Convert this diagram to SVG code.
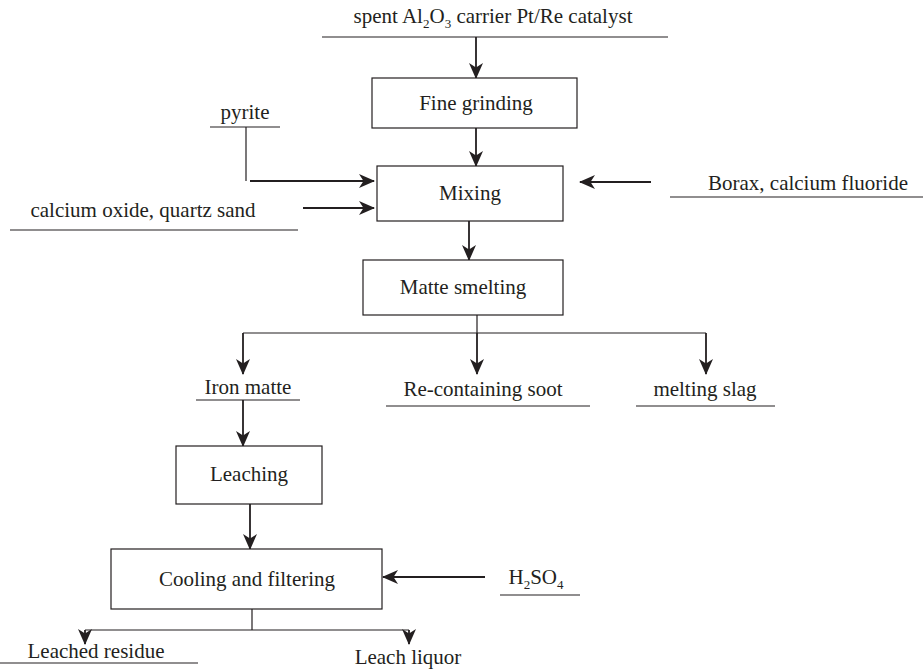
<svg xmlns="http://www.w3.org/2000/svg" width="923" height="670" viewBox="0 0 923 670">
<style>
text{font-family:"Liberation Serif","Times New Roman",serif;font-size:21px;fill:#231f20;text-anchor:middle}
.box{fill:#fff;stroke:#231f20;stroke-width:1.2}
.ln{fill:none;stroke:#231f20;stroke-width:1.2}
.ar{fill:none;stroke:#231f20;stroke-width:1.8;marker-end:url(#ah)}
.sub{font-size:13px}
</style>
<defs>
<marker id="ah" viewBox="0 0 16 14" refX="15" refY="7" markerWidth="16" markerHeight="14" markerUnits="userSpaceOnUse" orient="auto">
<path d="M0,0 L16,7 L0,14 L4.5,7 Z" fill="#231f20"/>
</marker>
</defs>
<rect width="923" height="670" fill="#fff"/>
<g id="connectors">
<path class="ar" d="M476,37 V78"/>
<path class="ar" d="M476,128 V166"/>
<path class="ln" d="M246,127 V181"/>
<path class="ar" d="M250,181 H374"/>
<path class="ar" d="M303,208 H374"/>
<path class="ar" d="M469,221 V260"/>
<path class="ar" d="M651,182 H580"/>
<path class="ln" d="M477,315 V333 M243,333 H706"/>
<path class="ar" d="M243,333 V374"/>
<path class="ar" d="M477,333 V374"/>
<path class="ar" d="M706,333 V374"/>
<path class="ar" d="M243,400 V446"/>
<path class="ar" d="M250,504 V549"/>
<path class="ar" d="M485,577 H383"/>
<path class="ln" d="M252,609 V630 M85,630 H409"/>
<path class="ar" d="M85,630 V644"/>
<path class="ar" d="M409,630 V644"/>
</g>
<g id="input-catalyst">
<text x="493" y="23">spent Al<tspan class="sub" dy="5">2</tspan><tspan dy="-5">O</tspan><tspan class="sub" dy="5">3</tspan><tspan dy="-5"> carrier Pt/Re catalyst</tspan></text>
<path class="ln" d="M322,37 H668"/>
</g>
<g id="fine-grinding">
<rect class="box" x="372" y="78" width="205" height="50"/>
<text x="476" y="110">Fine grinding</text>
</g>
<g id="pyrite">
<text x="245" y="119">pyrite</text>
<path class="ln" d="M210,127 H280"/>
</g>
<g id="calcium-oxide">
<text x="143" y="217">calcium oxide, quartz sand</text>
<path class="ln" d="M10,230 H298"/>
</g>
<g id="mixing">
<rect class="box" x="377" y="166" width="186" height="55"/>
<text x="470" y="200">Mixing</text>
</g>
<g id="borax">
<text x="808" y="190">Borax, calcium fluoride</text>
<path class="ln" d="M670,197 H923"/>
</g>
<g id="matte-smelting">
<rect class="box" x="363" y="260" width="200" height="55"/>
<text x="463" y="294">Matte smelting</text>
</g>
<g id="iron-matte">
<text x="248" y="394">Iron matte</text>
<path class="ln" d="M196,400 H300"/>
</g>
<g id="soot">
<text x="483" y="396">Re-containing soot</text>
<path class="ln" d="M386,406 H590"/>
</g>
<g id="slag">
<text x="705" y="396">melting slag</text>
<path class="ln" d="M636,406 H775"/>
</g>
<g id="leaching">
<rect class="box" x="176" y="446" width="146" height="58"/>
<text x="249" y="481">Leaching</text>
</g>
<g id="cooling">
<rect class="box" x="111" y="549" width="271" height="60"/>
<text x="247" y="586">Cooling and filtering</text>
</g>
<g id="h2so4">
<text x="536" y="584">H<tspan class="sub" dy="5">2</tspan><tspan dy="-5">SO</tspan><tspan class="sub" dy="5">4</tspan></text>
<path class="ln" d="M500,595 H580"/>
</g>
<g id="leached-residue">
<text x="96" y="658">Leached residue</text>
<path class="ln" d="M0,663 H198"/>
</g>
<g id="leach-liquor">
<text x="408" y="664">Leach liquor</text>
</g>
</svg>
